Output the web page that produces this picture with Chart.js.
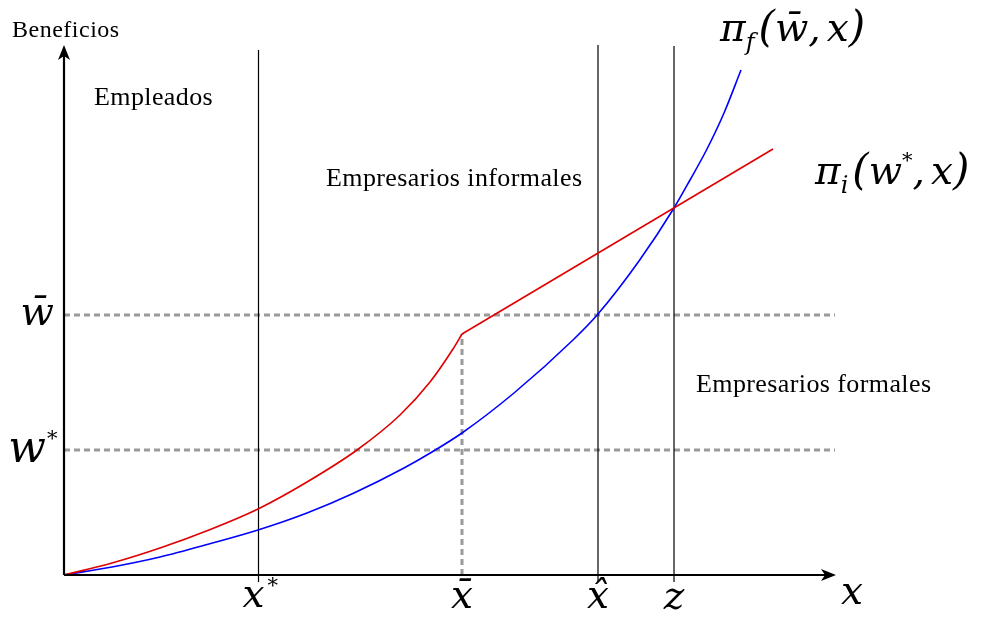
<!DOCTYPE html>
<html><head><meta charset="utf-8">
<script src="https://cdn.jsdelivr.net/npm/chart.js@4/dist/chart.umd.min.js"></script>
<style>html,body{margin:0;padding:0;background:#fff;}canvas{display:block}</style>
</head><body>
<canvas id="c" width="982" height="619"></canvas>
<script>
// ---- data (arbitrary units, origin at the axes' corner) ----
const redCurveX = [0, 48, 96, 145, 194, 243, 293, 336, 366, 389, 398];
const redCurveY = [0, 12, 27, 45, 66, 93, 125, 160, 193, 226, 241];
const redLineX  = [398, 709];
const redLineY  = [241, 426];
const blueX = [0, 48, 96, 145, 194, 243, 290, 340, 368, 398, 450, 509, 534, 575, 610, 626, 643, 660, 677];
const blueY = [0, 8, 18, 31, 45, 62, 82, 107, 123, 142, 182, 235, 261, 314, 367, 395, 426, 462, 505];
const markerLabels = ['x', 'x\u0304', 'x\u0302', 'z'];
const markerX   = [194.5, 398, 534, 610];
const markerTop = [525, 241, 530, 529];
const markerBottom = -7;
const levelLabels = ['w\u0304', 'w'];
const levelY = [260, 125];
const xAxisEnd = 772, yAxisEnd = 530, levelEnd = 771;
const regionLabels = ['Empleados', 'Empresarios informales', 'Empresarios formales'];
const yTitle = 'Beneficios';

const pts = (xs, ys) => xs.map((x, i) => ({x, y: ys[i]}));
const datasets = [];
// dashed grey guides
levelY.forEach(v => datasets.push({data: [{x: 0, y: v}, {x: levelEnd, y: v}], borderColor: '#9a9a9a', borderWidth: 3, borderDash: [6, 4], order: 10}));
datasets.push({data: [{x: markerX[1], y: 0}, {x: markerX[1], y: markerTop[1]}], borderColor: '#9a9a9a', borderWidth: 3, borderDash: [6, 4], order: 10});
// solid vertical lines
[0, 2, 3].forEach(i => datasets.push({data: [{x: markerX[i], y: markerBottom}, {x: markerX[i], y: markerTop[i]}], borderColor: '#000', borderWidth: 1.2, order: 8}));
// curves
datasets.push({data: pts(blueX, blueY), borderColor: '#0000ff', borderWidth: 1.6, cubicInterpolationMode: 'monotone', order: 5});
datasets.push({data: pts(redCurveX, redCurveY), borderColor: '#e00000', borderWidth: 1.6, cubicInterpolationMode: 'monotone', order: 4});
datasets.push({data: pts(redLineX, redLineY), borderColor: '#e00000', borderWidth: 1.6, order: 4});
// axes
datasets.push({data: [{x: 0, y: 0}, {x: xAxisEnd - 8, y: 0}], borderColor: '#000', borderWidth: 2.2, order: 1});
datasets.push({data: [{x: 0, y: 0}, {x: 0, y: yAxisEnd - 8}], borderColor: '#000', borderWidth: 2.2, order: 1});
datasets.forEach(d => { d.showLine = true; d.pointRadius = 0; d.fill = false; });

const MATH = '"DejaVu Serif", serif';
function seq(ctx, pieces, x, y) {
  for (const p of pieces) {
    ctx.font = p.f;
    ctx.fillText(p.t, x + (p.dx || 0), y + (p.dy || 0));
    x += ctx.measureText(p.t).width + (p.dx || 0) + (p.gap || 0);
  }
}

const decor = {
  id: 'decor',
  afterDraw(chart) {
    const ctx = chart.ctx, sx = chart.scales.x, sy = chart.scales.y;
    const X = v => sx.getPixelForValue(v), Y = v => sy.getPixelForValue(v);
    ctx.save();
    ctx.fillStyle = '#000';
    // arrowheads
    let tx = X(xAxisEnd), ty = Y(0);
    ctx.beginPath(); ctx.moveTo(tx, ty); ctx.lineTo(tx - 15, ty - 6); ctx.lineTo(tx - 11, ty); ctx.lineTo(tx - 15, ty + 6); ctx.closePath(); ctx.fill();
    tx = X(0); ty = Y(yAxisEnd);
    ctx.beginPath(); ctx.moveTo(tx, ty); ctx.lineTo(tx - 6, ty + 15); ctx.lineTo(tx, ty + 11); ctx.lineTo(tx + 6, ty + 15); ctx.closePath(); ctx.fill();

    ctx.textBaseline = 'alphabetic';
    const big = 'italic 39px ' + MATH, sup = 'italic 21px ' + MATH, sub = 'italic 24px ' + MATH, par = 'italic 42px ' + MATH;
    // x-axis marker labels
    ctx.textAlign = 'left';
    const by = 607;
    ctx.font = big;
    let w = ctx.measureText(markerLabels[0]).width;
    seq(ctx, [{t: markerLabels[0], f: big}, {t: '*', f: sup, dx: 3, dy: -15}], X(markerX[0]) - w / 2 - 5, by);
    ctx.textAlign = 'center';
    ctx.font = big;
    ctx.fillText(markerLabels[1], X(markerX[1]), by + 1);
    ctx.fillText(markerLabels[2], X(markerX[2]), by + 1);
    ctx.fillText(markerLabels[3], X(markerX[3]), by + 2);
    ctx.fillText('x', X(xAxisEnd) + 16, 604);
    // y levels
    ctx.textAlign = 'right';
    ctx.font = big;
    ctx.fillText(levelLabels[0], X(0) - 10, Y(levelY[0]) + 10);
    ctx.textAlign = 'left';
    const wf = 'italic 44px ' + MATH;
    ctx.font = wf;
    w = ctx.measureText(levelLabels[1]).width;
    seq(ctx, [{t: levelLabels[1], f: wf}, {t: '*', f: sup, dx: 1, dy: -17}], X(0) - 18 - w, Y(levelY[1]) + 12);
    // curve labels
    seq(ctx, [{t: '\u03C0', f: big}, {t: 'f', f: sub, dy: 9, gap: 4}, {t: '(', f: par}, {t: 'w\u0304', f: big}, {t: ',', f: big, gap: 6}, {t: 'x', f: big}, {t: ')', f: par}], 720, 41);
    seq(ctx, [{t: '\u03C0', f: big}, {t: 'i', f: sub, dy: 9, gap: 4}, {t: '(', f: par}, {t: 'w', f: big}, {t: '*', f: sup, dy: -17}, {t: ',', f: big, gap: 6}, {t: 'x', f: big}, {t: ')', f: par}], 815, 184);
    // text labels
    ctx.font = '24px "Liberation Serif", serif';
    ctx.letterSpacing = '0.5px';
    ctx.fillText(yTitle, 12, 37);
    ctx.font = '26px "Liberation Serif", serif';
    ctx.letterSpacing = '0.4px';
    ctx.fillText(regionLabels[0], 94, 105);
    ctx.fillText(regionLabels[1], 326, 186);
    ctx.fillText(regionLabels[2], 696, 392);
    ctx.restore();
  }
};

new Chart(document.getElementById('c'), {
  type: 'scatter',
  data: {datasets},
  options: {
    responsive: false, animation: false, devicePixelRatio: 1,
    layout: {padding: 0},
    plugins: {legend: {display: false}, tooltip: {enabled: false}},
    scales: {
      x: {type: 'linear', min: -64, max: 918, display: false},
      y: {type: 'linear', min: -44, max: 575, display: false}
    }
  },
  plugins: [decor]
});
</script>
</body></html>
